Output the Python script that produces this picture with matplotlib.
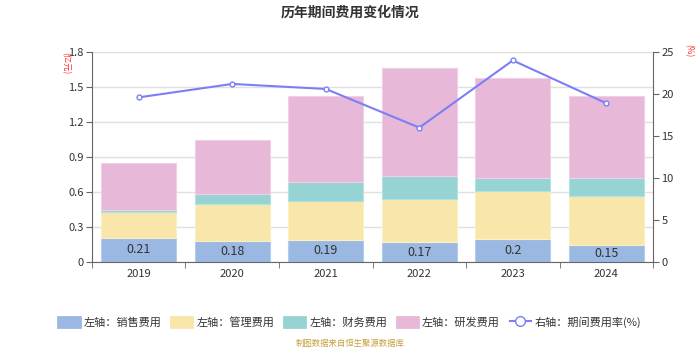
import matplotlib
matplotlib.use("Agg")
import matplotlib.pyplot as plt
import numpy as np
from matplotlib.lines import Line2D
from matplotlib.patches import Patch

plt.rcParams["font.family"] = ["Noto Sans CJK SC", "DejaVu Sans"]

years = ["2019", "2020", "2021", "2022", "2023", "2024"]
sales = [0.21, 0.18, 0.19, 0.17, 0.20, 0.15]
admin = [0.22, 0.32, 0.33, 0.37, 0.41, 0.42]
finance = [0.02, 0.08, 0.17, 0.20, 0.11, 0.15]
rnd = [0.40, 0.47, 0.73, 0.925, 0.86, 0.70]
rate = [19.6, 21.2, 20.6, 16.0, 24.0, 18.9]

series_names = ["左轴：销售费用", "左轴：管理费用", "左轴：财务费用", "左轴：研发费用"]
colors = ["#9ab8e2", "#f8e6aa", "#96d4d3", "#e7b8d8"]
edge_colors = ["#b4cbef", "#fbefc4", "#b2e2e1", "#f2cfe6"]
line_color = "#7b7ff5"
text_color = "#333333"

fig = plt.figure(figsize=(7, 3.5), dpi=100)
ax = fig.add_axes([0.1314, 0.2514, 0.8016, 0.6])
ax2 = ax.twinx()

x = np.arange(len(years))
bottom = np.zeros(len(years))
for vals, c, ec in zip([sales, admin, finance, rnd], colors, edge_colors):
    ax.bar(x, vals, width=0.8, bottom=bottom, color=c, edgecolor=ec, linewidth=0.8, zorder=2)
    bottom += np.array(vals)

for xi, v in zip(x, sales):
    ax.text(xi, v / 2, f"{v:g}", ha="center", va="center", fontsize=9, color=text_color, zorder=4)

ax2.plot(x, rate, color=line_color, lw=1.5, marker="o", markersize=3.5,
         markerfacecolor="white", markeredgecolor=line_color, markeredgewidth=1, zorder=5)

ax.set_xlim(-0.5, len(years) - 0.5)
ax.set_ylim(0, 1.8)
ax.set_yticks(np.arange(0, 1.81, 0.3))
ax.set_yticklabels(["0", "0.3", "0.6", "0.9", "1.2", "1.5", "1.8"])
ax2.set_ylim(0, 25)
ax2.set_yticks(np.arange(0, 26, 5))

ax.set_xticks(x)
ax.set_xticklabels(years)
ax.set_xticks(np.arange(-0.5, len(years), 1), minor=True)
ax.tick_params(axis="x", which="major", length=0, labelsize=8, colors=text_color, pad=5)
ax.tick_params(axis="x", which="minor", length=4, color="#666666")
ax.tick_params(axis="y", labelsize=8, colors=text_color, length=4, color="#666666", pad=2)
ax2.tick_params(axis="y", labelsize=8, colors=text_color, length=4, color="#666666", pad=2)

ax.grid(axis="y", color="#e0e0e0", lw=1, zorder=0)
ax.set_axisbelow(True)
for a in (ax, ax2):
    a.spines["top"].set_visible(False)
    a.spines["left"].set_color("#666666")
    a.spines["right"].set_color("#666666")
    a.spines["bottom"].set_color("#666666")
ax.spines["right"].set_visible(False)
ax2.spines["left"].set_visible(False)
ax2.spines["bottom"].set_visible(False)

fig.text(0.5, 0.965, "历年期间费用变化情况", ha="center", va="center",
         fontsize=10, fontweight="bold", color=text_color)
fig.text(0.094, 0.82, "(亿元)", ha="center", va="center", rotation=270,
         fontsize=6, color="#ff3333")
fig.text(0.983, 0.855, "(%)", ha="center", va="center", rotation=270,
         fontsize=6, color="#ff3333")

handles = [Patch(facecolor=c, edgecolor=c, linewidth=2, joinstyle="round") for c in colors]
handles.append(Line2D([0], [0], color=line_color, lw=1.5, marker="o", markersize=7,
                      markerfacecolor="white", markeredgecolor=line_color))
fig.legend(handles, series_names + ["右轴：期间费用率(%)"], loc="center",
           bbox_to_anchor=(0.5, 0.08), ncol=5, frameon=False, fontsize=8,
           handlelength=1.9, handleheight=1.1, handletextpad=0.35, columnspacing=0.9,
           labelcolor=text_color)

fig.text(0.5, 0.02, "制图数据来自恒生聚源数据库", ha="center", va="center",
         fontsize=6, color="#c8a03c")

fig.savefig("out.png", dpi=100)
